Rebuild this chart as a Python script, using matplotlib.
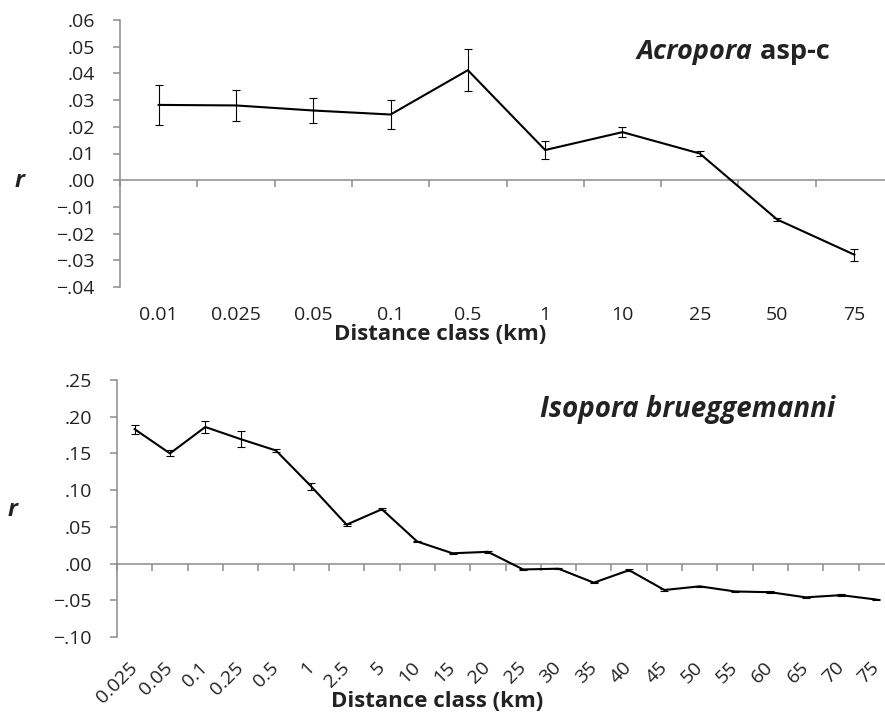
"""
plot.py

Two stacked spatial autocorrelation plots (r vs distance class)
for Acropora asp-c and Isopora brueggemanni.
"""

import numpy as np
import matplotlib
matplotlib.use('Agg')
import matplotlib.pyplot as plt
from matplotlib.ticker import FuncFormatter

plt.rcParams['font.family'] = ['Open Sans', 'DejaVu Sans']

# --- data: Acropora asp-c ---
acro_classes = ['0.01', '0.025', '0.05', '0.1', '0.5', '1', '10', '25', '50', '75']
acro_r = [0.0282, 0.0280, 0.0261, 0.0246, 0.0412, 0.0113, 0.0180, 0.0100, -0.0147, -0.0279]
acro_err = [0.0074, 0.0057, 0.0045, 0.0053, 0.0079, 0.0032, 0.0020, 0.0011, 0.0006, 0.0022]

# --- data: Isopora brueggemanni ---
iso_classes = ['0.025', '0.05', '0.1', '0.25', '0.5', '1', '2.5', '5', '10', '15', '20',
               '25', '30', '35', '40', '45', '50', '55', '60', '65', '70', '75']
iso_r = [0.183, 0.150, 0.186, 0.1695, 0.154, 0.105, 0.053, 0.074, 0.030, 0.014, 0.016,
         -0.008, -0.007, -0.026, -0.009, -0.036, -0.031, -0.038, -0.039, -0.046, -0.043, -0.049]
iso_err = [0.006, 0.004, 0.0086, 0.0105, 0.0015, 0.0045, 0.0015, 0.0015, 0.001, 0.001, 0.001,
           0.001, 0.001, 0.001, 0.001, 0.001, 0.001, 0.001, 0.001, 0.001, 0.001, 0.0012]

GREY = '#8c8c8c'
INK = '#222222'
W, H = 885, 712


def r_fmt(v, pos):
    if abs(v) < 1e-9:
        v = 0.0
    s = f'{v:.2f}'.replace('0.', '.', 1)
    return s.replace('-', '\u2212')


def draw_panel(ax, classes, r, err, ylim, ystep, rotate):
    x = np.arange(len(classes))
    ax.errorbar(x, r, yerr=err, color='black', lw=1.5,
                elinewidth=0.8, capsize=3, capthick=0.8)

    ax.set_xlim(-0.5, len(classes) - 0.5)
    ax.set_ylim(*ylim)
    ax.set_yticks(np.arange(ylim[0], ylim[1] + ystep / 2, ystep))
    ax.yaxis.set_major_formatter(FuncFormatter(r_fmt))

    for side in ('top', 'right', 'bottom'):
        ax.spines[side].set_visible(False)
    ax.spines['left'].set_color(GREY)
    ax.spines['left'].set_linewidth(1.1)
    ax.tick_params(axis='y', color=GREY, length=5, width=1.1,
                   pad=13, labelsize=14, labelcolor=INK)

    # category labels at the bottom of the plot area
    ax.set_xticks(x)
    ax.set_xticklabels(classes)
    ax.tick_params(axis='x', length=0, labelsize=14, labelcolor=INK,
                   pad=20 if rotate else 14)
    if rotate:
        plt.setp(ax.get_xticklabels(), rotation=45, ha='right',
                 va='center', rotation_mode='anchor')

    # zero line with tick marks between classes
    zero_loc = (0 - ylim[0]) / (ylim[1] - ylim[0])
    sec = ax.secondary_xaxis(zero_loc)
    sec.set_xticks(np.arange(len(classes) + 1) - 0.5)
    sec.tick_params(axis='x', length=5, width=1.1, color=GREY,
                    direction='out', labelbottom=False, labeltop=False)
    for sp in sec.spines.values():
        sp.set_color(GREY)
        sp.set_linewidth(1.1)


fig = plt.figure(figsize=(W / 100, H / 100), dpi=100)
fig.patch.set_facecolor('white')

ax1 = fig.add_axes([120 / W, 1 - 287 / H, 773 / W, 267 / H])
ax2 = fig.add_axes([117 / W, 1 - 637 / H, 777 / W, 257 / H])

draw_panel(ax1, acro_classes, acro_r, acro_err, (-0.04, 0.06), 0.01, rotate=False)
draw_panel(ax2, iso_classes, iso_r, iso_err, (-0.10, 0.25), 0.05, rotate=True)

lab = dict(fontsize=16, fontweight='bold', color=INK, ha='center', va='baseline')
fig.text(440 / W, 1 - 340 / H, 'Distance class (km)', **lab)
fig.text(437 / W, 1 - 707 / H, 'Distance class (km)', **lab)

rlab = dict(fontsize=17, fontweight='bold', style='italic', color=INK,
            ha='center', va='center')
fig.text(20 / W, 1 - 181 / H, 'r', **rlab)
fig.text(13 / W, 1 - 510 / H, 'r', **rlab)

t1 = fig.text(637 / W, 1 - 52 / H, 'Acropora', fontsize=19.5, fontweight='bold',
              style='italic', color=INK, ha='left', va='center')
ax1.annotate(' asp-c', xy=(1, 0.5), xycoords=t1, fontsize=19.5, fontweight='bold',
             color=INK, ha='left', va='center', annotation_clip=False)

fig.text(540 / W, 1 - 410 / H, 'Isopora brueggemanni', fontsize=20, fontweight='bold',
         style='italic', color=INK, ha='left', va='center')

fig.savefig('out.png', dpi=100, facecolor=fig.get_facecolor())
